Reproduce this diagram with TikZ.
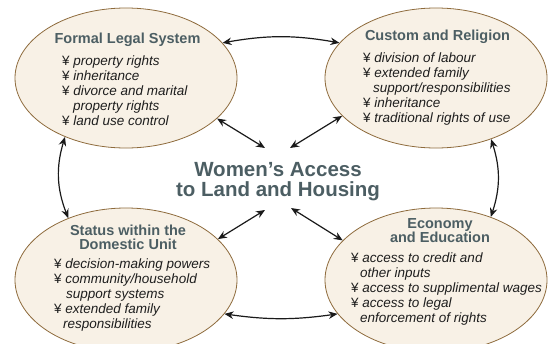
\documentclass[tikz,border=0pt]{standalone}
\usepackage{fontspec}
\setmainfont{Liberation Sans}
\usetikzlibrary{shapes.geometric,arrows.meta}
\definecolor{blobfill}{HTML}{F8F1E6}
\definecolor{blobline}{HTML}{8E6B3C}
\definecolor{ttlcol}{HTML}{4C5E63}
\definecolor{arrcol}{HTML}{1A1A1A}
\definecolor{txtcol}{HTML}{1E1E1E}
\begin{document}
\begin{tikzpicture}[x=1pt,y=-1pt,
  blob/.style={ellipse, draw=blobline, fill=blobfill, line width=0.8pt, inner sep=0pt, minimum width=222pt},
  ttl/.style={font=\fontsize{14.5}{14.5}\selectfont\bfseries, text=ttlcol, align=center, inner sep=0pt, anchor=north},
  lst/.style={font=\fontsize{13.5}{15}\selectfont, text=txtcol, align=left, inner sep=0pt, anchor=north west},
  bigttl/.style={font=\fontsize{20.5}{20}\selectfont\bfseries, text=ttlcol, align=center, inner sep=0pt, anchor=north},
  link/.style={{Stealth[length=9pt,width=7.5pt]}-{Stealth[length=9pt,width=7.5pt]}, line width=1.2pt, draw=arrcol},
]
\useasboundingbox (0,0) rectangle (553,343);
\clip (0,0) rectangle (553,343);

\node[blob, minimum height=140pt] (legal) at (126,78) {};
\node[blob, minimum height=140pt] (custom) at (436,78) {};
\node[blob, minimum height=144pt] (domestic) at (126,280) {};
\node[blob, minimum height=144pt] (economy) at (436,280) {};

\node[ttl] (legalT) at (127.5,32.5) {\rule{0pt}{11pt}Formal Legal System};
\node[lst] (legalL) at (62,55) {\rule{0pt}{10pt}¥ \textit{property rights}\\
  ¥ \textit{inheritance}\\
  ¥ \textit{divorce and marital}\\
  \hspace*{11pt}\textit{property rights}\\
  ¥ \textit{land use control}};

\node[ttl] (customT) at (437.5,29.5) {\rule{0pt}{11pt}Custom and Religion};
\node[lst] (customL) at (363,52) {\rule{0pt}{10pt}¥ \textit{division of labour}\\
  ¥ \textit{extended family}\\
  \hspace*{10pt}\textit{support/responsibilities}\\
  ¥ \textit{inheritance}\\
  ¥ \textit{traditional rights of use}};

\node[ttl] (domesticT) at (128,224) {\rule{0pt}{11pt}Status within the\\ Domestic Unit};
\node[lst] (domesticL) at (54,258) {\rule{0pt}{10pt}¥ \textit{decision-making powers}\\
  ¥ \textit{community/household}\\
  \hspace*{12pt}\textit{support systems}\\
  ¥ \textit{extended family}\\
  \hspace*{9pt}\textit{responsibilities}};

\node[ttl] (economyT) at (440,217) {\rule{0pt}{11pt}Economy\\ and Education};
\node[lst] (economyL) at (351,252) {\rule{0pt}{10pt}¥ \textit{access to credit and}\\
  \hspace*{9pt}\textit{other inputs}\\
  ¥ \textit{access to supplimental wages}\\
  ¥ \textit{access to legal}\\
  \hspace*{9pt}\textit{enforcement of rights}};

\node[bigttl] (center) at (278,161.7) {\rule{0pt}{15pt}Women’s Access\\ to Land and Housing};

\coordinate (cTL) at (265,148);
\coordinate (cTR) at (290,148);
\coordinate (cBL) at (265,210);
\coordinate (cBR) at (291,208);

\draw[link] (legal.20) to[bend left=10] (custom.160);
\draw[link] (legal.224) to[bend right=19] (domestic.133);
\draw[link] (custom.312) to[bend left=18] (economy.49);
\draw[link] (domestic.341) to[bend right=8] (economy.199);
\draw[link] (legal.336) -- (cTL);
\draw[link] (custom.202) -- (cTR);
\draw[link] (domestic.24) -- (cBL);
\draw[link] (economy.157) -- (cBR);
\end{tikzpicture}
\end{document}
